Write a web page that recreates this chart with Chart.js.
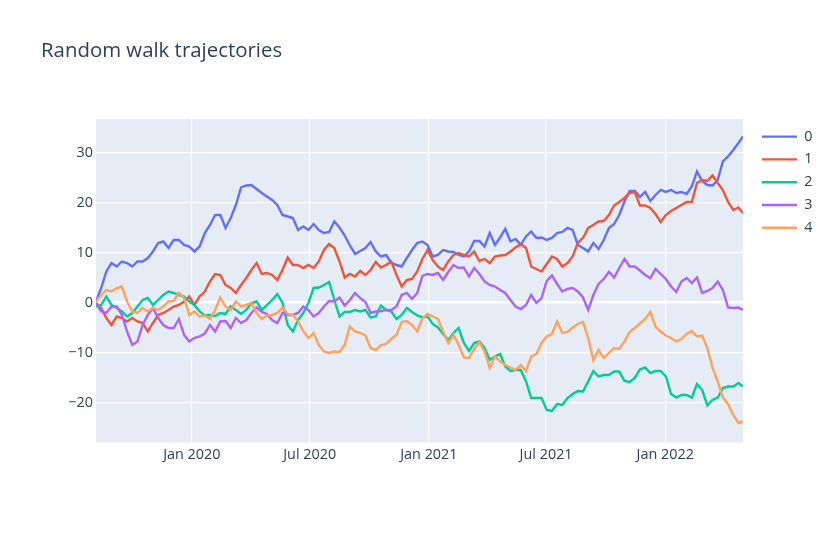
<!DOCTYPE html>
<html>
<head>
<meta charset="utf-8">
<script src="https://cdn.jsdelivr.net/npm/chart.js@4.4.0/dist/chart.umd.min.js"></script>
<style>
html, body { margin: 0; padding: 0; background: #ffffff; }
canvas { display: block; }
</style>
</head>
<body>
<canvas id="c" width="840" height="539"></canvas>
<script>
// ---- data ----
const START_DATE = '2019-08-06';
const LAST_DAY = 999;
const STEP_DAYS = 8;
const SERIES_NAMES = ['0', '1', '2', '3', '4'];
const SERIES_COLORS = ['#636EFA', '#EF553B', '#00CC96', '#AB63FA', '#FFA15A'];
const TICK_DATES = ['2020-01-01', '2020-07-01', '2021-01-01', '2021-07-01', '2022-01-01'];
const TICK_LABELS = ['Jan 2020', 'Jul 2020', 'Jan 2021', 'Jul 2021', 'Jan 2022'];
const Y_TICKS = [-20, -10, 0, 10, 20, 30];

const S0 = [0.2, 2.9, 6.2, 7.9, 7.2, 8.2, 7.9, 7.2, 8.2, 8.2, 8.9, 10.2, 11.9, 12.2, 10.9, 12.5, 12.5, 11.5, 11.2, 10.2, 11.2, 13.9,
  15.5, 17.5, 17.5, 14.9, 16.9, 19.5, 23, 23.4, 23.5, 22.7, 21.9, 21.2, 20.5, 19.5, 17.5, 17.2, 16.9, 14.5, 15.2, 14.5, 15.7,
  14.5, 13.9, 14.1, 16.2, 15, 13.4, 11.4, 9.7, 10.3, 10.9, 12.1, 10.2, 9.2, 9.5, 7.9, 7.5, 7.2, 8.9, 10.5, 11.9, 12.2,
  11.5, 9.2, 9.5, 10.5, 10.2, 10.1, 9.5, 9.2, 10.2, 12.3, 12.3, 11.2, 13.9, 11.5, 13, 14.7, 12.2, 12.7, 11.5, 13.2, 14.2,
  12.9, 13, 12.5, 12.9, 13.9, 14.1, 14.9, 14.5, 11.5, 10.9, 10.2, 11.9, 10.7, 12.5, 14.9, 15.7, 17.5, 20.2, 22.3, 22.3, 21.1,
  22.1, 20.3, 21.5, 22.5, 22.1, 22.5, 21.9, 22.1, 21.7, 23.2, 26.2, 24.3, 23.5, 23.4, 24.5, 28.2, 29.2, 30.5, 31.9, 33.2];

const S1 = [-0.1, -1.1, -3.1, -4.5, -2.8, -3.1, -3.8, -3.1, -3.8, -4.1, -5.8, -4.1, -2.5, -2.1, -1.5, -0.8, -0.5, 0.2, 1.2, -0.5, 1.2, 2.2,
  4.2, 5.7, 5.5, 3.5, 2.9, 1.9, 3.5, 4.9, 6.5, 7.9, 5.7, 5.9, 5.5, 4.5, 6.5, 9, 7.5, 7.5, 6.9, 7.5, 6.9,
  8.2, 10.5, 11.7, 10.9, 8.2, 5, 5.7, 5.2, 6.3, 5.5, 6.5, 8.1, 7, 7.5, 8.2, 5.5, 3.2, 4.5, 4.7, 6.2, 8.7,
  10.5, 8.5, 7.2, 6.5, 8.2, 9.5, 9.9, 9.5, 9.2, 10.2, 8.3, 8.7, 7.9, 9.2, 9.4, 9.5, 10.2, 11, 11.7, 10.9, 7.2,
  6.7, 6.2, 7.7, 9.2, 8.7, 7.2, 7.9, 9.2, 11.9, 12.9, 14.9, 15.5, 16.2, 16.3, 17.5, 19.4, 20.1, 20.9, 21.9, 22.1, 19.4,
  19.4, 18.9, 17.7, 16.1, 17.5, 18.3, 18.9, 19.5, 20.1, 20.1, 23.9, 24.5, 24.3, 25.4, 23.9, 22.5, 20.1, 18.5, 19, 17.9];

const S2 = [-0.8, -0.5, 1.2, -0.5, -1.1, -1.8, -2.8, -2.1, -0.8, 0.5, 0.9, -0.5, 0.5, 1.5, 2.2, 1.9, 1.5, 1.2, 0.2, -0.5, -1.8, -2.6,
  -2.5, -2.7, -2.1, -2.3, -0.8, -1.5, -2.3, -1.5, -0.1, 0.2, -1.5, -0.5, 0.5, 1.7, -0.1, -4.5, -5.8, -3.5, -2.1, -0.1, 2.9,
  3, 3.5, 4.1, 0.5, -2.8, -1.9, -1.9, -1.5, -1.8, -1.5, -3, -2.8, -0.6, -1.5, -1.8, -3.3, -2.5, -1.1, -1.9, -2.6, -3,
  -2.8, -4.3, -5, -6.3, -7.5, -6.1, -5.1, -8.1, -9.7, -8.1, -7.8, -9.1, -11.5, -10.8, -10.3, -12.8, -13.7, -13.5, -13.5, -15.8, -19.1,
  -19.1, -19.1, -21.5, -21.7, -20.3, -20.5, -19.1, -18.3, -17.7, -17.8, -15.8, -13.7, -14.8, -14.5, -14.5, -13.8, -13.8, -15.7, -15.9, -15.1, -13.4,
  -13, -14.1, -13.7, -13.7, -14.8, -18.3, -19, -18.5, -18.5, -19, -16.3, -17.5, -20.6, -19.5, -19, -17.1, -16.8, -16.8, -16.1, -16.8];

const S3 = [-0.1, -1.8, -2.1, -0.8, -0.8, -2.5, -5.8, -8.5, -7.8, -4.5, -2.5, -1.1, -3.1, -4.5, -5.1, -5.1, -3.3, -6.5, -7.8, -7.1, -6.8, -6.2,
  -4.5, -5.8, -3.8, -3.7, -5.1, -3.1, -4.1, -3.5, -2.1, -1, -1.9, -2.3, -3.5, -4.1, -2.1, -2.5, -2.5, -2.1, -0.8, -1.5, -2.8,
  -2.1, -0.8, 0.3, 0.2, 1, -0.6, 0.5, 1.9, 0.9, 0.1, -2.1, -1.8, -1.7, -1.5, -1.5, -0.8, 1.5, 1.9, 0.7, 1.9, 5.3,
  5.7, 5.5, 5.9, 4.5, 6.1, 7.5, 6.9, 7, 5.2, 6.9, 5.7, 4.2, 3.5, 3.2, 2.5, 1.9, 0.5, -0.8, -1.3, -0.5, 1.5,
  -0.1, 0.9, 4.3, 5.4, 3.7, 2.2, 2.7, 2.9, 2.2, 1, -1.5, 1.5, 3.7, 4.7, 6.1, 5, 6.9, 8.7, 7.2, 7.2, 6.4,
  5.5, 4.9, 6.7, 5.7, 4.7, 3.2, 2.1, 4.2, 4.9, 3.9, 5, 1.9, 2.3, 2.9, 4.2, 2.5, -1, -1.1, -1, -1.5];

const S4 = [0.2, 1.5, 2.5, 2.2, 2.9, 3.2, 0.2, -1.8, -2.1, -1.1, -1.8, -1.1, -1.5, -0.8, 0.2, 0.3, 1.9, 0.9, -2.5, -1.8, -2.8, -2.6,
  -3.3, -1.5, 1, -0.8, -1.5, 0.2, -0.8, -0.5, -0.1, -2.1, -3.3, -2.6, -2.5, -2.1, -1, -2.3, -2.5, -3.8, -5.7, -7.1, -6.1,
  -8.5, -9.8, -10.1, -9.8, -9.9, -8.5, -4.8, -5.8, -6.1, -6.6, -9.1, -9.5, -8.5, -8.3, -7.3, -6.5, -3.9, -3.7, -4.5, -5.8, -3.2,
  -2.3, -2.8, -3.3, -5.8, -8.1, -6.5, -8.5, -11, -11.1, -9.3, -7.9, -9.8, -13.1, -10.8, -11.8, -12.5, -13, -13.5, -12.5, -13.7, -10.8,
  -10.3, -8.1, -6.8, -6.3, -3.8, -6.1, -5.9, -5, -4.3, -3.9, -7.1, -11.5, -9.5, -11.1, -10.1, -9.1, -9.3, -7.8, -5.9, -5.1, -4.2,
  -3.3, -1.9, -4.8, -5.8, -6.6, -7.1, -7.8, -7.3, -6.3, -5.7, -6.8, -6.6, -9.1, -13.1, -15.8, -19, -20.3, -22.5, -24.1, -23.8];

const SERIES = [S0, S1, S2, S3, S4];

// ---- helpers ----
const DAY_MS = 86400000;
function dayOf(iso) { return (Date.parse(iso) - Date.parse(START_DATE)) / DAY_MS; }
function seriesPoints(values) {
  return values.map((v, i) => ({ x: Math.min(i * STEP_DAYS, LAST_DAY), y: v }));
}

Chart.defaults.font.family = '"Open Sans", "Noto Sans", sans-serif';
Chart.defaults.color = '#2a3f5f';

const bgPlugin = {
  id: 'plotBg',
  beforeDraw(chart) {
    const { ctx, chartArea: a } = chart;
    ctx.save();
    ctx.fillStyle = '#ffffff';
    ctx.fillRect(0, 0, chart.width, chart.height);
    ctx.fillStyle = '#E5ECF6';
    ctx.fillRect(a.left, a.top, a.right - a.left, a.bottom - a.top);
    ctx.restore();
  }
};

const datasets = SERIES.map((vals, i) => ({
  label: SERIES_NAMES[i],
  data: seriesPoints(vals),
  borderColor: SERIES_COLORS[i],
  backgroundColor: SERIES_COLORS[i],
  borderWidth: 2.4,
  pointRadius: 0,
  pointHoverRadius: 0,
  tension: 0,
  fill: false,
  order: SERIES.length - i
}));

new Chart(document.getElementById('c'), {
  type: 'line',
  data: { datasets },
  plugins: [bgPlugin],
  options: {
    responsive: false,
    animation: false,
    devicePixelRatio: 1,
    layout: { padding: { left: 41, right: 17.6, top: 0, bottom: 0 } },
    plugins: {
      tooltip: { enabled: false },
      title: {
        display: true,
        text: 'Random walk trajectories',
        align: 'start',
        color: '#2a3f5f',
        font: { size: 20.4, weight: 'normal' },
        padding: { top: 38.8, bottom: 55.7 }
      },
      legend: {
        display: true,
        position: 'right',
        align: 'start',
        fullSize: false,
        title: { display: true, text: '', font: { size: 1 }, padding: { top: 0.8, bottom: 0 } },
        labels: {
          usePointStyle: true,
          pointStyle: 'line',
          pointStyleWidth: 35,
          padding: 8.4,
          color: '#2a3f5f',
          font: { size: 14.4 },
          sort: (a, b) => a.datasetIndex - b.datasetIndex
        }
      }
    },
    scales: {
      x: {
        type: 'linear',
        min: 0,
        max: LAST_DAY,
        afterBuildTicks: s => { s.ticks = TICK_DATES.map(d => ({ value: dayOf(d) })); },
        afterFit: s => { s.height = 96.5; },
        grid: { color: '#ffffff', lineWidth: 1.2, drawTicks: false },
        border: { display: false },
        ticks: {
          autoSkip: false,
          maxRotation: 0,
          minRotation: 0,
          color: '#2a3f5f',
          font: { size: 14.4 },
          padding: 3.5,
          callback: (v, i) => TICK_LABELS[i]
        }
      },
      y: {
        type: 'linear',
        min: -28,
        max: 36.7,
        afterBuildTicks: s => { s.ticks = Y_TICKS.map(v => ({ value: v })); },
        afterFit: s => { s.width = 55; },
        grid: {
          color: '#ffffff',
          lineWidth: c => (c.tick && c.tick.value === 0) ? 2.4 : 1.2,
          drawTicks: false
        },
        border: { display: false },
        ticks: {
          color: '#2a3f5f',
          font: { size: 14.4 },
          padding: 3,
          callback: v => (v < 0 ? '\u2212' + Math.abs(v) : String(v))
        }
      },
      gap: {
        type: 'linear',
        position: 'right',
        display: true,
        grid: { display: false },
        border: { display: false },
        ticks: { display: false },
        afterFit: s => { s.width = 10.6; }
      }
    }
  }
});
</script>
</body>
</html>
